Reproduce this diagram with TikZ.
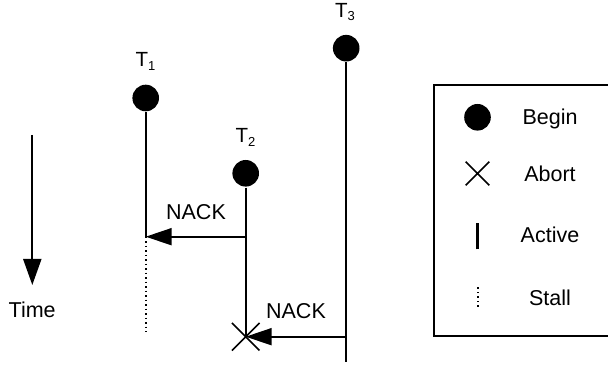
\documentclass[tikz,border=0pt]{standalone}
\usepackage{fontspec}
\setmainfont{Liberation Sans}
\usetikzlibrary{arrows.meta, positioning, calc, shapes.misc}
\newcommand{\tsub}[1]{\raisebox{-3.8pt}{\fontsize{13}{13}\selectfont #1}}

\begin{document}
\begin{tikzpicture}[x=1pt, y=1pt, line width=2pt,
    >={Triangle[length=26pt, width=17pt]},
    begin/.style={circle, fill=black, inner sep=0pt, minimum size=26.6pt},
    abort/.style={cross out, draw, line width=1.6pt, inner sep=0pt, minimum size=26pt},
    stall/.style={line width=1.8pt, dash pattern=on 1.5pt off 3pt},
    lbl/.style={font=\fontsize{21.5}{25}\selectfont, inner sep=0pt, anchor=base},
    tname/.style={font=\fontsize{20.5}{24}\selectfont, inner sep=0pt, anchor=base west}]
  \useasboundingbox (0,0) rectangle (608,366);

  % transactions
  \node[begin] (t1) at (145.7,268) {};
  \node[begin] (t2) at (245.7,192.7) {};
  \node[begin] (t3) at (346.2,317.8) {};
  \node[tname] (t1name) at ($(t1)+(-11,31)$) {T\tsub{1}};
  \node[tname] (t2name) at ($(t2)+(-11,31)$) {T\tsub{2}};
  \node[tname] (t3name) at ($(t3)+(-12,31)$) {T\tsub{3}};

  % T1 runs, then stalls
  \coordinate (stall1) at (t1 |- 0,129.3);
  \coordinate (end1) at (t1 |- 0,34);
  \draw (t1) -- (stall1);
  \draw[stall] (stall1) -- (end1);

  % T2 nacks T1, then aborts
  \coordinate (nack1) at (t2 |- stall1);
  \node[abort] (abort2) at (t2 |- 0,29.3) {};
  \draw (t2) -- (abort2.center);
  \draw[->] (nack1) -- (stall1);
  \node[lbl] (nack1name) at (196,146.7) {NACK};

  % T3 nacks T2
  \coordinate (end3) at (t3 |- 0,4);
  \coordinate (nack2) at (t3 |- abort2);
  \draw (t3) -- (end3);
  \draw[->] (nack2) -- (abort2.center);
  \node[lbl] (nack2name) at (296,47.7) {NACK};

  % time axis
  \coordinate (timetop) at (32.3,231);
  \coordinate (timeend) at (32.3,81);
  \draw[->, >={Triangle[length=26pt, width=18pt]}] (timetop) -- (timeend);
  \node[lbl] (time) at (32.2,48.7) {Time};

  % legend
  \draw (434,29.5) rectangle (640,280.5);
  \node[begin] (keybegin) at (477.5,248.7) {};
  \node[abort, minimum size=22pt] (keyabort) at (477.5,192.5) {};
  \draw[line width=2.5pt] (477.7,116.7) -- (477.7,143.3);
  \draw[stall] (477.7,59.3) -- (477.7,81);
  \foreach \y/\txt in {241/Begin, 184.3/Abort, 123/Active, 60/Stall}
    \node[lbl] at (550,\y) {\txt};
\end{tikzpicture}
\end{document}
